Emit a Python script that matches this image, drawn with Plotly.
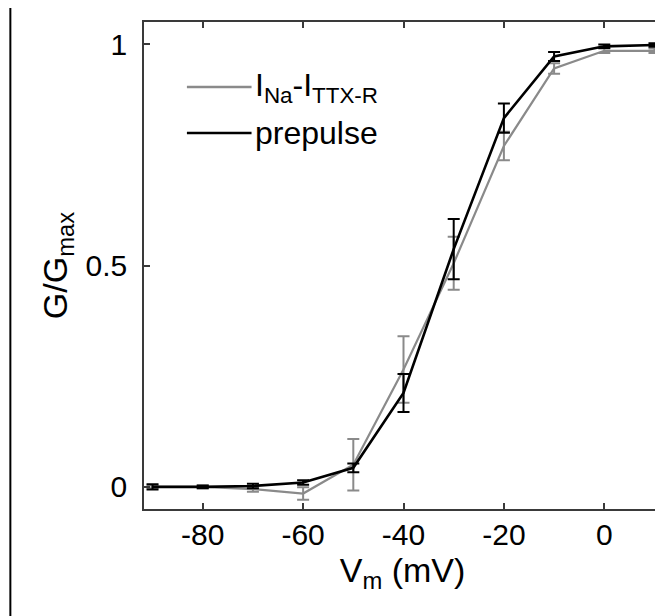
import plotly.graph_objects as go

# Data
vm = [-90, -80, -70, -60, -50, -40, -30, -20, -10, 0, 10]
g_ttxr = [0.0, 0.0, -0.005, -0.015, 0.05, 0.265, 0.505, 0.77, 0.945, 0.985, 0.985]
g_ttxr_err = [0.003, 0.003, 0.006, 0.014, 0.058, 0.075, 0.06, 0.032, 0.012, 0.005, 0.005]
g_pre = [0.0, 0.0, 0.002, 0.01, 0.043, 0.212, 0.537, 0.833, 0.972, 0.995, 0.998]
g_pre_err = [0.006, 0.003, 0.005, 0.005, 0.01, 0.043, 0.068, 0.033, 0.01, 0.004, 0.004]

x_ticks = [-80, -60, -40, -20, 0]
x_tick_text = ["-80", "-60", "-40", "-20", "0"]
y_ticks = [0, 0.5, 1]
y_tick_text = ["0", "0.5", "1"]

legend_names = ["I<sub>Na</sub>-I<sub>TTX-R</sub>", "prepulse"]

GRAY = "#8a8a8a"
BLACK = "#000000"
FONT = "Liberation Sans, Arial, sans-serif"

fig = go.Figure()
fig.add_trace(go.Scatter(
    x=vm, y=g_ttxr, mode="lines", name=legend_names[0],
    line=dict(color=GRAY, width=2.2),
    error_y=dict(type="data", array=g_ttxr_err, visible=True, color=GRAY, thickness=2, width=6),
    showlegend=False,
))
fig.add_trace(go.Scatter(
    x=vm, y=g_pre, mode="lines", name=legend_names[1],
    line=dict(color=BLACK, width=2.6),
    error_y=dict(type="data", array=g_pre_err, visible=True, color=BLACK, thickness=2, width=6),
    showlegend=False,
))

# manual legend (long line samples like the original)
for i, (name, col) in enumerate(zip(legend_names, [GRAY, BLACK])):
    yp = [0.8665, 0.772][i]
    fig.add_shape(type="line", xref="paper", yref="paper", x0=0.083, x1=0.208, y0=yp, y1=yp,
                  line=dict(color=col, width=2.6))
    fig.add_annotation(xref="paper", yref="paper", x=0.211, y=yp, text=name, showarrow=False,
                       xanchor="left", yanchor="middle",
                       font=dict(family=FONT, size=32, color="black"))

# vertical frame line at far left of the figure
fig.add_shape(type="line", xref="paper", yref="paper", x0=-0.2585, x1=-0.2585, y0=1.03, y1=-0.22,
              line=dict(color="black", width=2))

axis_common = dict(
    showline=True, linecolor="#3a3a3a", linewidth=1.5, mirror="ticks",
    ticks="inside", ticklen=6, tickwidth=1.5, tickcolor="#3a3a3a",
    showgrid=False, zeroline=False,
    tickfont=dict(family=FONT, size=30, color="black"),
)

# page body has an 8px margin, so the figure is 8px smaller on each side
fig.update_layout(
    width=655, height=608,
    margin=dict(l=136, r=0, t=14, b=107),
    paper_bgcolor="white", plot_bgcolor="white",
    xaxis=dict(range=[-91.7, 11.3], tickvals=x_ticks, ticktext=x_tick_text, ticklabelstandoff=-2,
               title=dict(text="V<sub>m</sub> (mV)", font=dict(family=FONT, size=34, color="black"), standoff=2),
               **axis_common),
    yaxis=dict(range=[-0.05, 1.05], tickvals=y_ticks, ticktext=y_tick_text, ticklabelstandoff=9,
               title=dict(text="G/G<sub>max</sub>", font=dict(family=FONT, size=34, color="black"), standoff=8),
               **axis_common),
)

fig.write_html("out.html")
